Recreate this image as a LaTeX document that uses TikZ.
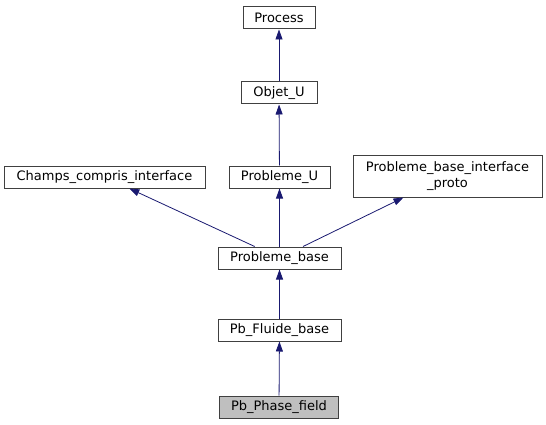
\documentclass[tikz,border=0pt]{standalone}
\usepackage{fontspec}
\setmainfont{DejaVu Sans}
\usetikzlibrary{arrows.meta}
\definecolor{edgeblue}{HTML}{191970}
\definecolor{hlgray}{HTML}{BFBFBF}
\tikzset{x=1pt, y=-1pt,
every node/.style={font=\fontsize{13}{16}\selectfont},
cls/.style={ % Sets the properties for each class box
draw=black!75, line width=1pt,
fill=white,
inner sep=0pt,
minimum height=22pt,
align=center},
current/.style={fill=hlgray}, % The class the graph is about
every edge/.style={ % Sets the properties for each inheritance link
draw=edgeblue,
line width=0.8pt,
-{Triangle[length=10pt, width=7pt, fill=edgeblue]}}}

\begin{document}
\begin{tikzpicture}
	\useasboundingbox (0,0) rectangle (546,425);
	\node[cls, minimum width=72pt] (process) at (279,18) {Process};
	\node[cls, minimum width=76pt] (objet) at (279,93) {Objet\_U};
	\node[cls, minimum width=201pt] (champs) at (104.5,177) {Champs\_compris\_interface};
	\node[cls, minimum width=101pt] (pbu) at (279.5,177) {Probleme\_U};
	\node[cls, minimum width=189pt, minimum height=42pt] (proto) at (447.5,176) {Probleme\_base\_interface\\\_proto};
	\node[cls, minimum width=123pt] (pbase) at (279.5,258) {Probleme\_base};
	\node[cls, minimum width=123pt] (fluide) at (279.5,330) {Pb\_Fluide\_base};
	\node[cls, current, minimum width=119pt] (phase) at (279,407) {Pb\_Phase\_field};
	\draw (objet) edge (process);
	\draw (pbu) edge (objet);
	\draw (pbase) edge (champs);
	\draw (pbase) edge (pbu);
	\draw (pbase) edge (proto);
	\draw (fluide) edge (pbase);
	\draw (phase) edge (fluide);
\end{tikzpicture}
\end{document}
